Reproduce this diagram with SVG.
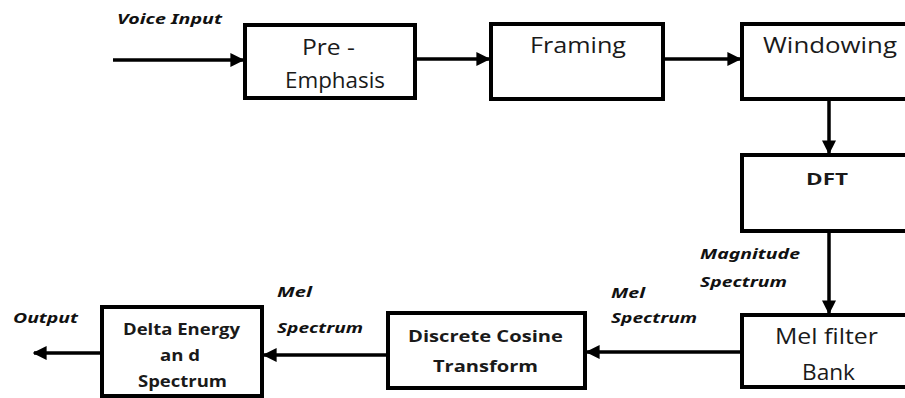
<svg xmlns="http://www.w3.org/2000/svg" width="905" height="398" viewBox="0 0 905 398">
<style>
.box{fill:#fff;stroke:#000;stroke-width:4}
.t{font-family:"Open Sans","Noto Sans",sans-serif;font-size:22px;fill:#1a1a1a}
.tb{font-family:"Open Sans","Noto Sans",sans-serif;font-size:16px;font-weight:bold;fill:#1a1a1a}
.lbl{font-family:"Noto Sans","Open Sans",sans-serif;font-size:15px;font-weight:bold;font-style:italic;fill:#111}
.c{stroke:#000;stroke-width:3.5;fill:none}
</style>
<defs>
<marker id="ah" viewBox="0 0 10 10" refX="9" refY="5" markerWidth="4" markerHeight="4" orient="auto" markerUnits="strokeWidth">
<path d="M0,0 L10,5 L0,10 z" fill="#000"/>
</marker>
</defs>
<g id="connectors">
<line class="c" x1="113" y1="60" x2="243" y2="60" marker-end="url(#ah)"/>
<line class="c" x1="415" y1="59" x2="489" y2="59" marker-end="url(#ah)"/>
<line class="c" x1="663" y1="59" x2="740" y2="59" marker-end="url(#ah)"/>
<line class="c" x1="829" y1="99" x2="829" y2="153" marker-end="url(#ah)"/>
<line class="c" x1="829" y1="231" x2="829" y2="313" marker-end="url(#ah)"/>
<line class="c" x1="742" y1="352" x2="587" y2="352" marker-end="url(#ah)"/>
<line class="c" x1="388" y1="355" x2="264" y2="355" marker-end="url(#ah)"/>
<line class="c" x1="102" y1="353" x2="34" y2="353" marker-end="url(#ah)"/>
</g>
<g id="labels">
<text class="lbl" x="117" y="24" textLength="105" lengthAdjust="spacingAndGlyphs">Voice Input</text>
<text class="lbl" x="700" y="259" textLength="100" lengthAdjust="spacingAndGlyphs">Magnitude</text>
<text class="lbl" x="700" y="287" textLength="87" lengthAdjust="spacingAndGlyphs">Spectrum</text>
<text class="lbl" x="611" y="298" textLength="34" lengthAdjust="spacingAndGlyphs">Mel</text>
<text class="lbl" x="611" y="323" textLength="86" lengthAdjust="spacingAndGlyphs">Spectrum</text>
<text class="lbl" x="277" y="297" textLength="35" lengthAdjust="spacingAndGlyphs">Mel</text>
<text class="lbl" x="277" y="333" textLength="86" lengthAdjust="spacingAndGlyphs">Spectrum</text>
<text class="lbl" x="13" y="323" textLength="65" lengthAdjust="spacingAndGlyphs">Output</text>
</g>
<g id="pre-emphasis">
<rect class="box" x="245" y="25" width="170" height="73"/>
<text class="t" x="302" y="55" textLength="53" lengthAdjust="spacingAndGlyphs">Pre -</text>
<text class="t" x="285" y="88" textLength="100" lengthAdjust="spacingAndGlyphs">Emphasis</text>
</g>
<g id="framing">
<rect class="box" x="491" y="24" width="172" height="75"/>
<text class="t" x="530" y="53" textLength="96" lengthAdjust="spacingAndGlyphs">Framing</text>
</g>
<g id="windowing">
<rect class="box" x="742" y="24" width="170" height="75"/>
<text class="t" x="763" y="53" textLength="134" lengthAdjust="spacingAndGlyphs">Windowing</text>
</g>
<g id="dft">
<rect class="box" x="742" y="155" width="170" height="76"/>
<text class="tb" x="806" y="185" textLength="42" lengthAdjust="spacingAndGlyphs">DFT</text>
</g>
<g id="mel-filter-bank">
<rect class="box" x="742" y="315" width="170" height="72"/>
<text class="t" x="775" y="344" textLength="103" lengthAdjust="spacingAndGlyphs">Mel filter</text>
<text class="t" x="802" y="380" textLength="53" lengthAdjust="spacingAndGlyphs">Bank</text>
</g>
<g id="dct">
<rect class="box" x="388" y="313" width="197" height="75"/>
<text class="tb" x="408" y="342" textLength="155" lengthAdjust="spacingAndGlyphs">Discrete Cosine</text>
<text class="tb" x="433" y="372" textLength="105" lengthAdjust="spacingAndGlyphs">Transform</text>
</g>
<g id="delta">
<rect class="box" x="102" y="307" width="160" height="89"/>
<text class="tb" x="123" y="335" textLength="117" lengthAdjust="spacingAndGlyphs">Delta Energy</text>
<text class="tb" x="160" y="361" textLength="40" lengthAdjust="spacingAndGlyphs">an d</text>
<text class="tb" x="138" y="387" textLength="89" lengthAdjust="spacingAndGlyphs">Spectrum</text>
</g>
</svg>
